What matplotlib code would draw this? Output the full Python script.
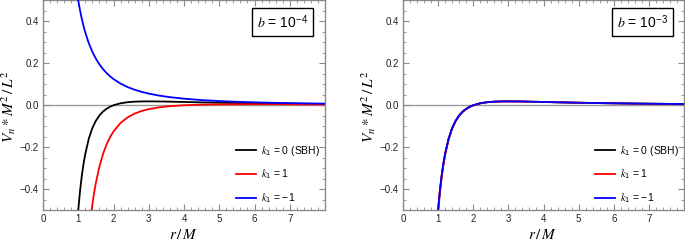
import matplotlib
matplotlib.use("Agg")
import matplotlib.pyplot as plt
from matplotlib.ticker import MultipleLocator, FixedLocator, FuncFormatter

plt.rcParams['font.family'] = ['Liberation Sans', 'DejaVu Sans']
plt.rcParams['mathtext.fontset'] = 'custom'
plt.rcParams['mathtext.rm'] = 'Liberation Sans'
plt.rcParams['mathtext.it'] = 'STIXGeneral:italic'
plt.rcParams['mathtext.bf'] = 'Liberation Sans:bold'

# ---------------- data ----------------
r_vals = [0.98, 1.0, 1.05, 1.1, 1.15, 1.2, 1.3, 1.4, 1.5, 1.6, 1.7, 1.8, 1.9, 2.0,
          2.2, 2.4, 2.6, 2.8, 3.0, 3.3, 3.6, 4.0, 4.5, 5.0, 5.5, 6.0, 6.5, 7.0, 7.5, 8.0]

# left panel, b = 1e-4
left_black = [-0.542, -0.5, -0.410, -0.338, -0.279, -0.232, -0.159, -0.109, -0.074, -0.049,
              -0.0305, -0.0171, -0.0073, 0.0, 0.0094, 0.0145, 0.0171, 0.0182, 0.0185, 0.0181,
              0.0171, 0.0156, 0.0137, 0.0120, 0.0105, 0.0093, 0.0082, 0.0073, 0.0065, 0.0059]
left_blue = [0.521, 0.5, 0.4535, 0.4132, 0.3781, 0.3472, 0.2959, 0.2551, 0.2222, 0.1953,
             0.1730, 0.1543, 0.1385, 0.125, 0.1033, 0.0868, 0.0740, 0.0638, 0.0556, 0.0459,
             0.0386, 0.0313, 0.0247, 0.0200, 0.0165, 0.0139, 0.0118, 0.0102, 0.0089, 0.0078]
r_red = [1.37, 1.38, 1.4, 1.45, 1.5, 1.6, 1.7, 1.8, 1.9, 2.0, 2.2, 2.4, 2.6, 2.8, 3.0,
         3.3, 3.6, 4.0, 4.5, 5.0, 5.5, 6.0, 6.5, 7.0, 7.5, 8.0]
left_red = [-0.512, -0.4985, -0.4738, -0.4182, -0.3704, -0.2930, -0.2341, -0.1886, -0.1531,
            -0.125, -0.0845, -0.0579, -0.0398, -0.0273, -0.0185, -0.0097, -0.0043, 0.0,
            0.0027, 0.0040, 0.0045, 0.0046, 0.0046, 0.0044, 0.0041, 0.0039]

# right panel, b = 1e-3
right_black = list(left_black)
right_red = [-0.553, -0.51, -0.418, -0.345, -0.285, -0.236, -0.163, -0.112, -0.076, -0.050,
             -0.0315, -0.018, -0.008, -0.001, 0.0090, 0.0142, 0.0169, 0.0181, 0.0184, 0.0180,
             0.0170, 0.0155, 0.0136, 0.0119, 0.0104, 0.0092, 0.0081, 0.0072, 0.0065, 0.0058]
right_blue = [-0.538, -0.497, -0.407, -0.335, -0.277, -0.230, -0.158, -0.108, -0.073, -0.048,
              -0.030, -0.0168, -0.0070, 0.0003, 0.0096, 0.0147, 0.0172, 0.0183, 0.0186, 0.0182,
              0.0172, 0.0157, 0.0138, 0.0121, 0.0106, 0.0094, 0.0083, 0.0074, 0.0066, 0.0060]

labels = [r'$k_1$ = 0 (SBH)', r'$k_1$ = 1', r'$k_1$ = $-$1']
panel_titles = [r'$b$ = 10$^{-4}$', r'$b$ = 10$^{-3}$']
x_ticks = [0, 1, 2, 3, 4, 5, 6, 7]
y_ticks = [-0.4, -0.2, 0.0, 0.2, 0.4]

# ---------------- figure ----------------
fig = plt.figure(figsize=(6.85, 2.43), dpi=100)
ax1 = fig.add_axes([43/685, 33/243, 282/685, 209.5/243])
ax2 = fig.add_axes([403/685, 33/243, 281/685, 209.5/243])

frame_col = '#8a8a8a'
panels = [
    (ax1, left_black, left_red, left_blue, r_vals, r_red, r_vals, panel_titles[0], 0.848),
    (ax2, right_black, right_red, right_blue, r_vals, r_vals, r_vals, panel_titles[1], 0.853),
]

for ax, yb, yr, ybl, xb, xr, xbl, title, bx in panels:
    ax.axhline(0, color='#9a9a9a', lw=1.0, zorder=1)
    ax.plot(xb, yb, color='black', lw=1.3, label=labels[0], zorder=3)
    ax.plot(xr, yr, color='#ff0000', lw=1.3, label=labels[1], zorder=4)
    ax.plot(xbl, ybl, color='#0000ff', lw=1.3, label=labels[2], zorder=5)
    ax.set_xlim(0, 8)
    ax.set_ylim(-0.5, 0.5)
    ax.xaxis.set_major_locator(FixedLocator(x_ticks))
    ax.xaxis.set_minor_locator(MultipleLocator(0.2))
    ax.yaxis.set_major_locator(FixedLocator(y_ticks))
    ax.yaxis.set_minor_locator(MultipleLocator(0.05))
    ax.yaxis.set_major_formatter(FuncFormatter(lambda v, p: ('%.1f' % v).replace('-', '\u2212')))
    ax.xaxis.set_major_formatter(FuncFormatter(lambda v, p: '%d' % v))
    ax.tick_params(which='both', direction='in', top=True, right=True, color=frame_col,
                   labelsize=7, labelcolor='#222222')
    ax.tick_params(which='major', length=4, width=0.8, pad=3)
    ax.tick_params(which='minor', length=2, width=0.6)
    for s in ax.spines.values():
        s.set_color(frame_col)
        s.set_linewidth(1.0)
    ax.text(bx, 0.898, title, transform=ax.transAxes, ha='center', va='center', fontsize=10,
            bbox=dict(boxstyle='square,pad=0.35', fc='white', ec='black', lw=1.0), zorder=6)
    leg = ax.legend(loc='lower left', bbox_to_anchor=(0.685, 0.025), frameon=False,
                    fontsize=7.5, handlelength=1.9, handletextpad=0.5, labelspacing=0.95,
                    borderpad=0, borderaxespad=0)

# axis labels
for xc in [184, 543]:
    fig.text(xc/685, 1.5/243, r'$r\,/\,M$', ha='center', va='bottom', fontsize=11,
             math_fontfamily='stix')
for xc in [9, 369]:
    fig.text(xc/685, (243-107)/243, r'$V_n * M^2\,/\,L^2$', ha='center', va='center',
             fontsize=11, rotation=90, math_fontfamily='stix')

fig.savefig('out.png', dpi=100)
